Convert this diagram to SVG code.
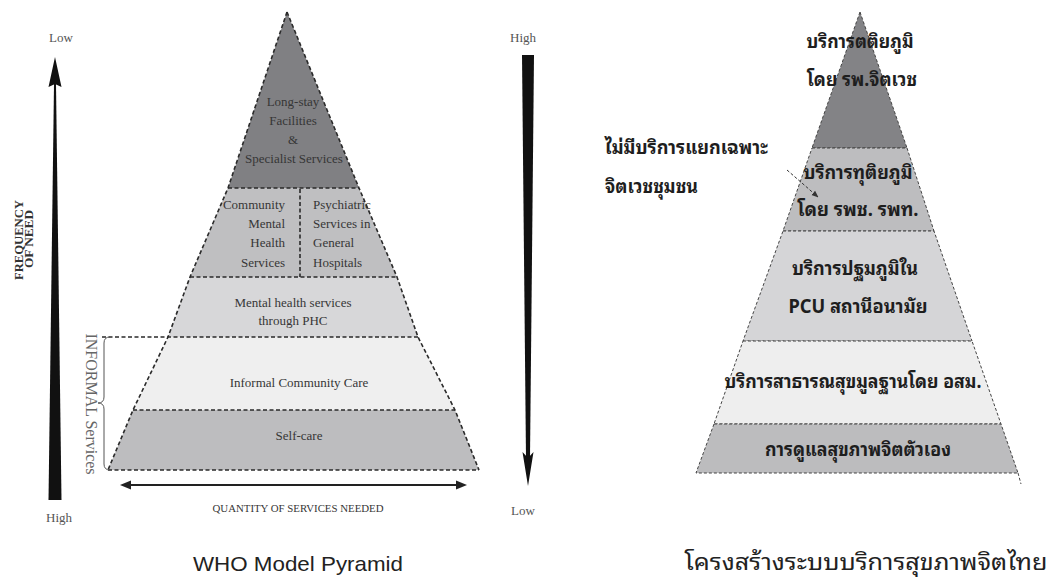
<svg xmlns="http://www.w3.org/2000/svg" width="1059" height="579" viewBox="0 0 1059 579">
<style>
.ser{font-family:'Liberation Serif','Times New Roman',serif;fill:#363636;}
.lp{font-size:13px;text-anchor:middle;}
.ax{font-size:13px;fill:#555;text-anchor:middle;}
.dl{fill:none;stroke:#2a2a2a;stroke-width:1.6;stroke-dasharray:4 2.5;}
.dr{stroke:#444;stroke-width:1;stroke-dasharray:3 2;}
.th{font-family:'Noto Sans Thai Looped','Noto Sans Thai','Noto Sans Thai UI','Loma','Garuda','Tlwg Typo','Noto Sans','DejaVu Sans',sans-serif;font-weight:bold;fill:#1e1e1e;font-size:19px;text-anchor:middle;}
.cap{font-family:'Noto Sans Thai Looped','Noto Serif Thai','Noto Sans Thai','Loma','Noto Sans','DejaVu Sans',sans-serif;fill:#222;font-size:22px;}
</style>
<defs>
<marker id="ah" viewBox="0 0 10 10" refX="9" refY="5" markerWidth="7" markerHeight="7" orient="auto"><path d="M0,1 L10,5 L0,9 Z" fill="#333"/></marker>
</defs>
<rect width="1059" height="579" fill="#fff"/>

<!-- LEFT: WHO pyramid -->
<g id="who-tier1">
<polygon points="287,12 359,188 228,188" fill="#808083"/>
<text class="ser lp" x="293" y="106">Long-stay</text>
<text class="ser lp" x="293" y="125">Facilities</text>
<text class="ser lp" x="293" y="144">&amp;</text>
<text class="ser lp" x="294" y="163">Specialist Services</text>
</g>
<g id="who-tier2">
<polygon points="228,188 359,188 397,277 190,277" fill="#bfbfc1"/>
<line class="dl" x1="300" y1="189" x2="300" y2="277"/>
<g class="ser" font-size="13" text-anchor="end">
<text x="285" y="209">Community</text>
<text x="285" y="228">Mental</text>
<text x="285" y="247">Health</text>
<text x="285" y="267">Services</text>
</g>
<g class="ser" font-size="13">
<text x="313" y="209">Psychiatric</text>
<text x="313" y="228">Services in</text>
<text x="313" y="247">General</text>
<text x="313" y="267">Hospitals</text>
</g>
</g>
<g id="who-tier3">
<polygon points="190,277 397,277 418,337 168,337" fill="#d7d7d9"/>
<text class="ser lp" x="293" y="307">Mental health services</text>
<text class="ser lp" x="293" y="325">through PHC</text>
</g>
<g id="who-tier4">
<polygon points="168,337 418,337 455,410 133,410" fill="#efefef"/>
<text class="ser lp" x="299" y="387">Informal Community Care</text>
</g>
<g id="who-tier5">
<polygon points="133,410 455,410 479,470 108,470" fill="#bdbdbf"/>
<text class="ser lp" x="299" y="440">Self-care</text>
</g>
<g id="who-outline">
<polyline class="dl" points="287,12 228,188 190,277 168,337 133,410 108,470"/>
<polyline class="dl" points="287,12 359,188 397,277 418,337 455,410 479,470"/>
<line class="dl" x1="228" y1="188" x2="359" y2="188"/>
<line class="dl" x1="190" y1="277" x2="397" y2="277"/>
<line class="dl" x1="102" y1="337" x2="418" y2="337"/>
<line class="dl" x1="133" y1="410" x2="455" y2="410"/>
<line class="dl" x1="108" y1="470" x2="479" y2="470"/>
</g>
<g id="informal-brace">
<path d="M110,337 Q104,337 104,343 L104,397 Q104,403 98,403 Q104,403 104,409 L104,464 Q104,470 110,470" fill="none" stroke="#555" stroke-width="1"/>
<text class="ser" font-size="16" text-anchor="middle" transform="translate(86,404) rotate(90)" style="fill:#666">INFORMAL Services</text>
</g>
<g id="freq-axis">
<polygon points="55,57 61.5,87 55,84 48.5,87" fill="#111"/>
<polygon points="54,84 56,84 61.5,500 48.5,500" fill="#111"/>
<text class="ser ax" x="61" y="42">Low</text>
<text class="ser ax" x="59" y="522">High</text>
<g class="ser" font-size="12" font-weight="bold" text-anchor="middle" style="fill:#333">
<text transform="translate(23,240) rotate(-90)" textLength="80" lengthAdjust="spacingAndGlyphs">FREQUENCY</text>
<text transform="translate(33,239) rotate(-90)" textLength="58" lengthAdjust="spacingAndGlyphs">OF NEED</text>
</g>
</g>
<g id="level-axis">
<polygon points="522,55 534,55 530,458 526,458" fill="#111"/>
<polygon points="522.5,452 528,458 533.5,452 528,486" fill="#111"/>
<text class="ser ax" x="523" y="42">High</text>
<text class="ser ax" x="523" y="515">Low</text>
</g>
<g id="quantity-axis">
<line x1="128" y1="485" x2="459" y2="485" stroke="#222" stroke-width="2"/>
<polygon points="120,485 131,480.5 131,489.5" fill="#222"/>
<polygon points="467,485 456,480.5 456,489.5" fill="#222"/>
<text class="ser" font-size="11" x="298" y="512" text-anchor="middle" textLength="171" lengthAdjust="spacingAndGlyphs">QUANTITY OF SERVICES NEEDED</text>
</g>
<g id="who-caption">
<text font-family="'Liberation Sans',Arial,sans-serif" font-size="21" fill="#222" x="298" y="571" text-anchor="middle" textLength="210" lengthAdjust="spacingAndGlyphs">WHO Model Pyramid</text>
</g>

<!-- RIGHT: Thai pyramid -->
<g id="thai-tier1">
<polygon class="dr" points="860,12 907,148 812,148" fill="#838386"/>
<text class="th" x="860" y="48" textLength="107" lengthAdjust="spacingAndGlyphs">บริการตติยภูมิ</text>
<text class="th" x="862" y="86" textLength="110" lengthAdjust="spacingAndGlyphs">โดย รพ.จิตเวช</text>
</g>
<g id="thai-tier2">
<polygon class="dr" points="812,148 907,148 934,231 783,231" fill="#bdbdbf"/>
<text class="th" x="858" y="179" textLength="109" lengthAdjust="spacingAndGlyphs">บริการทุติยภูมิ</text>
<text class="th" x="858" y="216" textLength="121" lengthAdjust="spacingAndGlyphs">โดย รพช. รพท.</text>
</g>
<g id="thai-tier3">
<polygon class="dr" points="783,231 934,231 972,341 743,341" fill="#d5d5d7"/>
<text class="th" x="855" y="275" textLength="126" lengthAdjust="spacingAndGlyphs">บริการปฐมภูมิใน</text>
<text class="th" x="858" y="313" textLength="139" lengthAdjust="spacingAndGlyphs">PCU สถานีอนามัย</text>
</g>
<g id="thai-tier4">
<polygon class="dr" points="743,341 972,341 1001,424 714,424" fill="#eeeeee"/>
<text class="th" x="853" y="388" textLength="257" lengthAdjust="spacingAndGlyphs">บริการสาธารณสุขมูลฐานโดย อสม.</text>
</g>
<g id="thai-tier5">
<polygon class="dr" points="714,424 1001,424 1018,473 696,473" fill="#bcbcbe"/>
<text class="th" x="858" y="456" textLength="186" lengthAdjust="spacingAndGlyphs">การดูแลสุขภาพจิตตัวเอง</text>
<line class="dr" x1="1018" y1="473" x2="1021" y2="484"/>
</g>
<g id="thai-note">
<text class="th" x="605" y="154" style="text-anchor:start" textLength="163" lengthAdjust="spacingAndGlyphs">ไม่มีบริการแยกเฉพาะ</text>
<text class="th" x="605" y="193" style="text-anchor:start" textLength="93" lengthAdjust="spacingAndGlyphs">จิตเวชชุมชน</text>
</g>
<g id="connectors">
<line x1="787" y1="170" x2="818" y2="197" stroke="#333" stroke-width="1" stroke-dasharray="3 2" marker-end="url(#ah)"/>
</g>
<g id="thai-caption">
<text class="cap" x="866" y="570" text-anchor="middle" textLength="363" lengthAdjust="spacingAndGlyphs">โครงสร้างระบบบริการสุขภาพจิตไทย</text>
</g>
</svg>
